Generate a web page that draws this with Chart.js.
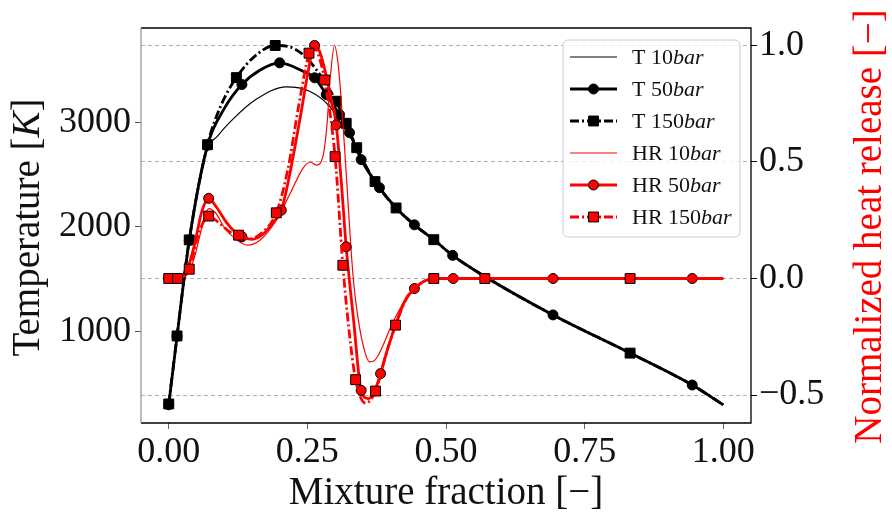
<!DOCTYPE html>
<html>
<head>
<meta charset="utf-8">
<script src="https://cdn.jsdelivr.net/npm/chart.js@4/dist/chart.umd.min.js"></script>
<style>
  html, body { margin: 0; padding: 0; background: #fff; }
  #c { display: block; }
</style>
</head>
<body>
<canvas id="c" width="892" height="523"></canvas>
<script>
// ---- temperature profiles [K] vs mixture fraction ----
const zT10    = [0, 0.015, 0.037, 0.064, 0.09, 0.115, 0.157, 0.212, 0.254, 0.29, 0.314, 0.339, 0.372, 0.41, 0.443, 0.478, 0.512, 0.57, 0.693, 0.832, 0.944, 1.0];
const tempT10 = [300, 950, 1860, 2675, 2880, 3026, 3217, 3339, 3297, 3153, 2962, 2757, 2433, 2181, 2020, 1878, 1728, 1526, 1159, 794, 489, 300];

const zT50    = [0, 0.015, 0.037, 0.07, 0.1, 0.132, 0.165, 0.2, 0.242, 0.263, 0.284, 0.308, 0.326, 0.347, 0.38, 0.41, 0.443, 0.478, 0.512, 0.57, 0.693, 0.832, 0.944, 1.0];
const tempT50 = [300, 955, 1870, 2780, 3130, 3361, 3500, 3568, 3488, 3425, 3265, 3073, 2900, 2643, 2375, 2181, 2020, 1878, 1728, 1526, 1159, 794, 489, 300];
const marksT50 = [0, 0.015, 0.037, 0.07, 0.132, 0.2, 0.263, 0.284, 0.308, 0.326, 0.347, 0.38, 0.443, 0.512, 0.693, 0.944];

const zT150    = [0, 0.015, 0.037, 0.07, 0.095, 0.122, 0.155, 0.192, 0.215, 0.242, 0.266, 0.29, 0.302, 0.32, 0.339, 0.372, 0.41, 0.443, 0.478, 0.512, 0.57, 0.693, 0.832, 0.944, 1.0];
const tempT150 = [308, 958, 1876, 2786, 3170, 3427, 3630, 3734, 3725, 3648, 3504, 3313, 3201, 2990, 2757, 2433, 2181, 2020, 1878, 1728, 1526, 1159, 794, 489, 300];
const marksT150 = [0, 0.015, 0.037, 0.07, 0.122, 0.192, 0.302, 0.32, 0.339, 0.372, 0.41, 0.478, 0.832];

// ---- normalized heat release [-] vs mixture fraction ----
const zHR10  = [0, 0.015, 0.03, 0.045, 0.06, 0.072, 0.085, 0.1, 0.12, 0.142, 0.165, 0.194, 0.22, 0.242, 0.255, 0.266, 0.278, 0.285, 0.292, 0.299, 0.305, 0.31, 0.316, 0.322, 0.328, 0.334, 0.342, 0.352, 0.362, 0.372, 0.38, 0.404, 0.434, 0.46, 0.48, 0.57, 0.7, 0.85, 1.0];
const hrHR10 = [0, 0, 0.01, 0.08, 0.22, 0.3, 0.28, 0.22, 0.17, 0.143, 0.165, 0.25, 0.37, 0.473, 0.5, 0.487, 0.523, 0.65, 0.88, 1.0, 0.93, 0.8, 0.6, 0.38, 0.15, -0.03, -0.18, -0.3, -0.358, -0.35, -0.32, -0.19, -0.064, -0.012, 0, 0, 0, 0, 0];

const zHR50  = [0, 0.015, 0.03, 0.045, 0.06, 0.072, 0.085, 0.1, 0.115, 0.132, 0.15, 0.17, 0.185, 0.203, 0.215, 0.228, 0.24, 0.25, 0.263, 0.272, 0.281, 0.292, 0.302, 0.311, 0.32, 0.333, 0.347, 0.36, 0.37, 0.382, 0.395, 0.409, 0.425, 0.443, 0.46, 0.48, 0.513, 0.57, 0.693, 0.832, 0.944, 1.0];
const hrHR50 = [0, 0, 0.02, 0.13, 0.29, 0.344, 0.31, 0.255, 0.21, 0.179, 0.168, 0.19, 0.23, 0.293, 0.41, 0.57, 0.73, 0.87, 1.0, 0.975, 0.9, 0.78, 0.659, 0.42, 0.136, -0.17, -0.48, -0.515, -0.49, -0.408, -0.3, -0.2, -0.1, -0.043, -0.012, 0, 0, 0, 0, 0, 0, 0];
const marksHR50 = [0, 0.015, 0.072, 0.132, 0.203, 0.263, 0.302, 0.32, 0.347, 0.382, 0.443, 0.513, 0.693, 0.944];

const zHR150  = [0, 0.016, 0.037, 0.055, 0.072, 0.09, 0.11, 0.126, 0.145, 0.17, 0.194, 0.215, 0.235, 0.253, 0.262, 0.27, 0.281, 0.3, 0.314, 0.325, 0.337, 0.355, 0.373, 0.39, 0.409, 0.43, 0.455, 0.478, 0.51, 0.57, 0.7, 0.832, 0.944, 1.0];
const hrHR150 = [0, 0, 0.04, 0.2, 0.268, 0.24, 0.2, 0.186, 0.17, 0.2, 0.282, 0.47, 0.75, 0.967, 1.0, 0.96, 0.852, 0.523, 0.057, -0.22, -0.434, -0.535, -0.483, -0.34, -0.2, -0.08, -0.02, 0, 0, 0, 0, 0, 0, 0];
const marksHR150 = [0, 0.016, 0.037, 0.072, 0.126, 0.194, 0.253, 0.281, 0.3, 0.314, 0.337, 0.373, 0.409, 0.478, 0.57, 0.832];

// ---- axis ticks ----
const zTicks    = [0, 0.25, 0.5, 0.75, 1.0];
const tempTicks = [1000, 2000, 3000];
const hrTicks   = [-0.5, 0, 0.5, 1.0];

const SERIF = "'Liberation Serif', 'DejaVu Serif', serif";
const RED = '#ff0000';
const DASHDOT = [9, 3, 2, 3];

function pts(z, v) { return z.map((x, i) => ({ x: x, y: v[i] })); }

function series(label, z, v, marks, axis, style) {
  return Object.assign({
    label: label,
    data: pts(z, v),
    yAxisID: axis,
    showLine: true,
    cubicInterpolationMode: 'monotone',
    pointRadius: ctx => (marks && marks.indexOf(z[ctx.dataIndex]) >= 0) ? style.markR : 0,
    pointHoverRadius: 0,
    pointBorderWidth: 1,
    pointBorderColor: '#000',
    fill: false
  }, style);
}

const datasets = [
  series('HR 150bar', zHR150, hrHR150, marksHR150, 'y2',
    { order: 0, borderColor: RED, borderWidth: 2.8, borderDash: DASHDOT, pointStyle: 'rect', markR: 7, pointBackgroundColor: RED }),
  series('HR 50bar', zHR50, hrHR50, marksHR50, 'y2',
    { order: 1, borderColor: RED, borderWidth: 2.8, pointStyle: 'circle', markR: 5, pointBackgroundColor: RED }),
  series('HR 10bar', zHR10, hrHR10, null, 'y2',
    { order: 2, borderColor: RED, borderWidth: 1.2, pointStyle: 'circle', markR: 0, pointBackgroundColor: RED }),
  series('T 150bar', zT150, tempT150, marksT150, 'y',
    { order: 3, borderColor: '#000', borderWidth: 2.8, borderDash: DASHDOT, pointStyle: 'rect', markR: 7, pointBackgroundColor: '#000' }),
  series('T 50bar', zT50, tempT50, marksT50, 'y',
    { order: 4, borderColor: '#000', borderWidth: 2.8, pointStyle: 'circle', markR: 5, pointBackgroundColor: '#000' }),
  series('T 10bar', zT10, tempT10, null, 'y',
    { order: 5, borderColor: '#000', borderWidth: 1.2, pointStyle: 'circle', markR: 0, pointBackgroundColor: '#000' })
];

// legend rows, top to bottom
const legendRows = ['T 10bar', 'T 50bar', 'T 150bar', 'HR 10bar', 'HR 50bar', 'HR 150bar'];

function drawSegments(ctx, segs, x, y, align) {
  let total = 0;
  segs.forEach(s => { ctx.font = s.font; total += ctx.measureText(s.text).width; });
  let cx = align === 'center' ? x - total / 2 : x;
  ctx.textAlign = 'left';
  segs.forEach(s => {
    ctx.font = s.font;
    ctx.fillText(s.text, cx, y);
    cx += ctx.measureText(s.text).width;
  });
}

function marker(ctx, style, x, y, r, fill) {
  ctx.save();
  ctx.setLineDash([]);
  ctx.fillStyle = fill;
  ctx.strokeStyle = '#000';
  ctx.lineWidth = 1;
  ctx.beginPath();
  if (style === 'rect') {
    const h = r * Math.SQRT1_2;
    ctx.rect(x - h, y - h, 2 * h, 2 * h);
  } else {
    ctx.arc(x, y, r, 0, Math.PI * 2);
  }
  ctx.fill();
  ctx.stroke();
  ctx.restore();
}

const decorations = {
  id: 'decorations',
  afterDatasetsDraw(chart) {
    const ctx = chart.ctx;
    const a = chart.chartArea;
    ctx.save();

    // axes frame
    ctx.lineWidth = 1.3;
    ctx.strokeStyle = '#000';
    ctx.beginPath();
    ctx.moveTo(a.left, a.top);
    ctx.lineTo(a.right, a.top);
    ctx.lineTo(a.right, a.bottom);
    ctx.lineTo(a.left, a.bottom);
    ctx.stroke();
    ctx.strokeStyle = '#9a9a9a';
    ctx.beginPath();
    ctx.moveTo(a.left, a.top);
    ctx.lineTo(a.left, a.bottom);
    ctx.stroke();

    // legend box
    const bx = 563, by = 40, bw = 177, bh = 197;
    ctx.beginPath();
    ctx.roundRect(bx, by, bw, bh, 5);
    ctx.fillStyle = 'rgba(255,255,255,0.8)';
    ctx.fill();
    ctx.strokeStyle = '#cccccc';
    ctx.lineWidth = 1;
    ctx.stroke();

    legendRows.forEach((name, i) => {
      const ds = chart.data.datasets.find(d => d.label === name);
      const y = 57 + i * 32;
      ctx.save();
      ctx.strokeStyle = ds.borderColor;
      ctx.lineWidth = ds.borderWidth;
      ctx.setLineDash(ds.borderDash || []);
      ctx.beginPath();
      ctx.moveTo(570, y);
      ctx.lineTo(617, y);
      ctx.stroke();
      ctx.restore();
      if (ds.markR > 0) marker(ctx, ds.pointStyle, 593.5, y, ds.markR, ds.pointBackgroundColor);
      const cut = name.indexOf('bar');
      ctx.fillStyle = '#111';
      ctx.textBaseline = 'middle';
      drawSegments(ctx, [
        { text: name.slice(0, cut), font: '22px ' + SERIF },
        { text: 'bar', font: 'italic 22px ' + SERIF }
      ], 632, y + 1, 'left');
    });

    // axis titles
    ctx.textBaseline = 'middle';
    ctx.fillStyle = '#111';
    drawSegments(ctx, [{ text: 'Mixture fraction [\u2212]', font: '39px ' + SERIF }],
      chart.scales.x.getPixelForValue(0.5), 494, 'center');

    ctx.save();
    ctx.translate(29, (a.top + a.bottom) / 2 + 2);
    ctx.rotate(-Math.PI / 2);
    drawSegments(ctx, [
      { text: 'Temperature [', font: '39px ' + SERIF },
      { text: 'K', font: 'italic 39px ' + SERIF },
      { text: ']', font: '39px ' + SERIF }
    ], 0, 0, 'center');
    ctx.restore();

    ctx.save();
    ctx.fillStyle = RED;
    ctx.translate(871, (a.top + a.bottom) / 2 + 1);
    ctx.rotate(-Math.PI / 2);
    drawSegments(ctx, [{ text: 'Normalized heat release [\u2212]', font: '39px ' + SERIF }], 0, 0, 'center');
    ctx.restore();

    ctx.restore();
  }
};

const tickFont = { family: SERIF, size: 36 };

new Chart(document.getElementById('c'), {
  type: 'scatter',
  data: { datasets: datasets },
  options: {
    responsive: false,
    animation: false,
    devicePixelRatio: 1,
    events: [],
    layout: { padding: { top: 28, left: 0, right: 0, bottom: 0 } },
    plugins: { legend: { display: false }, tooltip: { enabled: false } },
    scales: {
      x: {
        type: 'linear',
        position: 'bottom',
        min: -0.05,
        max: 1.05,
        afterBuildTicks: s => { s.ticks = zTicks.map(v => ({ value: v })); },
        afterFit: s => { s.height = 100; },
        grid: { drawOnChartArea: false, drawTicks: true, tickLength: 6, tickColor: '#666', lineWidth: 1 },
        border: { display: false },
        ticks: { font: tickFont, color: '#111', padding: 2, maxRotation: 0, autoSkip: false,
                 callback: v => Number(v).toFixed(2) }
      },
      y: {
        type: 'linear',
        position: 'left',
        min: 126,
        max: 3901,
        afterBuildTicks: s => { s.ticks = tempTicks.map(v => ({ value: v })); },
        afterFit: s => { s.width = 141; },
        grid: { drawOnChartArea: false, drawTicks: true, tickLength: 6, tickColor: '#555', lineWidth: 1 },
        border: { display: false },
        ticks: { font: tickFont, color: '#111', padding: 4, autoSkip: false, callback: v => String(v) }
      },
      y2: {
        type: 'linear',
        position: 'right',
        min: -0.62,
        max: 1.075,
        afterBuildTicks: s => { s.ticks = hrTicks.map(v => ({ value: v })); },
        afterFit: s => { s.width = 141; },
        grid: { drawOnChartArea: true, drawTicks: true, tickLength: 6, tickColor: '#000',
                color: '#b0b0b0', lineWidth: 1 },
        border: { display: false, dash: [4, 3] },
        ticks: { font: tickFont, color: '#111', padding: 2, autoSkip: false,
                 callback: v => (v < 0 ? '\u2212' : '') + Math.abs(v).toFixed(1) }
      }
    }
  },
  plugins: [decorations]
});
</script>
</body>
</html>
